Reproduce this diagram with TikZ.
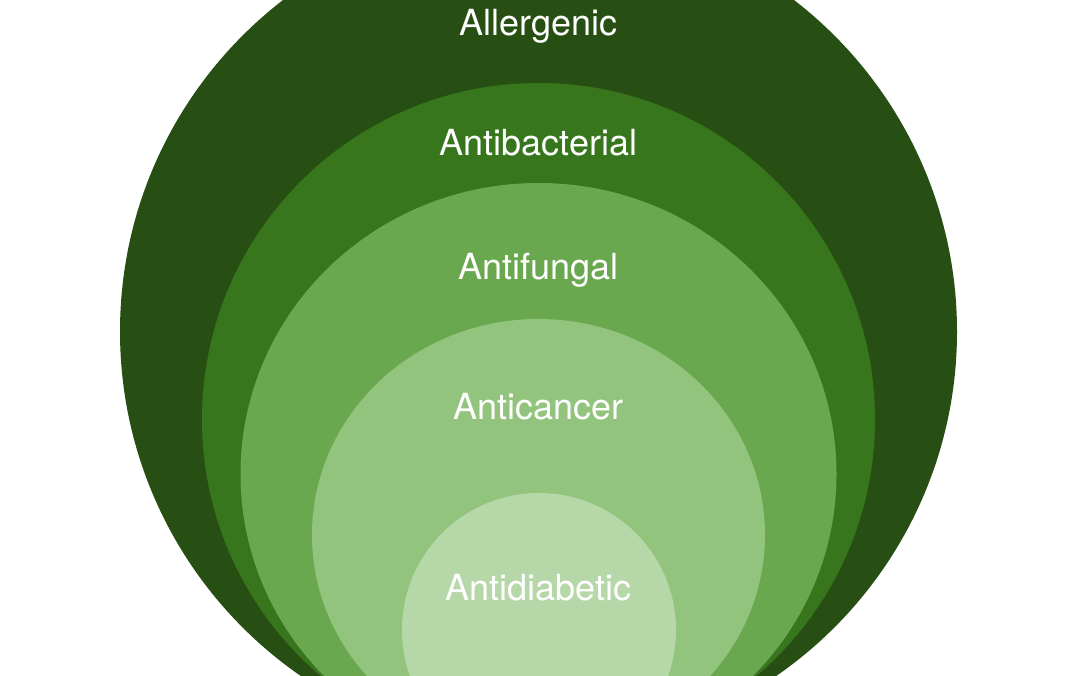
\documentclass[tikz,border=0pt]{standalone}
\usepackage{fontspec}
\setmainfont{TeX Gyre Heros}
\definecolor{gA}{HTML}{274E13}
\definecolor{gB}{HTML}{38761D}
\definecolor{gC}{HTML}{6AA84F}
\definecolor{gD}{HTML}{93C47D}
\definecolor{gE}{HTML}{B6D7A8}
\begin{document}
\begin{tikzpicture}[x=1pt,y=1pt,
  lbl/.style={text=white,anchor=base,inner sep=0pt,font=\fontsize{36}{43}\selectfont}]
\useasboundingbox (0,0) rectangle (1075,675);
\clip (0,0) rectangle (1075,675);
\fill[white] (0,0) rectangle (1075,675);
\fill[gA] (538.5,343.5) circle (418.5);
\fill[gB] (538.5,255.5) circle (336.5);
\fill[gC] (538.5,201) ellipse [x radius=298, y radius=291];
\fill[gD] (538.5,140) ellipse [x radius=226.5, y radius=216];
\fill[gE] (539,45) circle (137);
\node[lbl] (allergenic) at (538.5,639) {Allergenic};
\node[lbl] (antibacterial) at (538.5,519) {Antibacterial};
\node[lbl] (antifungal) at (538.5,395) {Antifungal};
\node[lbl] (anticancer) at (538.5,255) {Anticancer};
\node[lbl] (antidiabetic) at (538.5,75) {Antidiabetic};
\end{tikzpicture}
\end{document}
